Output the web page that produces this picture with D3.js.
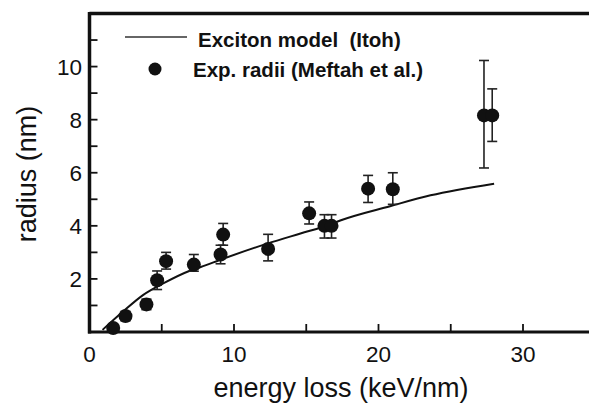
<!DOCTYPE html>
<html>
<head>
<meta charset="utf-8">
<script src="https://cdn.jsdelivr.net/npm/d3@7"></script>
<style>
  html, body { margin: 0; padding: 0; background: #fff; }
  svg { display: block; }
  text { font-family: "Liberation Sans", Arial, Helvetica, sans-serif; fill: #111; }
</style>
</head>
<body>
<svg id="chart" width="589" height="403"></svg>
<script>
// Experimental radii (Meftah et al.)
const energy = [1.64, 2.49, 3.94, 4.68, 5.3, 7.22, 9.07, 9.25, 12.36, 15.2, 16.26, 16.75, 19.28, 20.99, 27.3, 27.87];
const radius = [0.15, 0.6, 1.04, 1.95, 2.67, 2.54, 2.92, 3.67, 3.13, 4.47, 4.0, 4.0, 5.4, 5.38, 8.16, 8.16];
const errLow  = [0.12, 0.18, 0.2, 0.35, 0.3, 0.25, 0.35, 0.4, 0.45, 0.4, 0.46, 0.46, 0.52, 0.57, 1.98, 0.98];
const errHigh = [0.12, 0.18, 0.2, 0.35, 0.33, 0.38, 0.35, 0.42, 0.55, 0.43, 0.42, 0.42, 0.5, 0.62, 2.07, 1.0];

// Exciton model (Itoh) curve
const modelEnergy = [0.9, 2.3, 3.7, 5.1, 6.9, 7.7, 9.3, 12.3, 14.6, 16.5, 17.4, 20.8, 23.6, 28.0];
const modelRadius = [0.08, 0.76, 1.39, 1.83, 2.3, 2.45, 2.77, 3.33, 3.71, 4.02, 4.21, 4.74, 5.15, 5.59];

// Axis ticks
const xMajorTicks = [0, 10, 20, 30];
const xMinorTicks = [5, 15, 25];
const yMajorTicks = [2, 4, 6, 8, 10];
const yMinorTicks = [1, 3, 5, 7, 9, 11];

const legendLabels = ["Exciton model  (Itoh)", "Exp. radii (Meftah et al.)"];
const xTitle = "energy loss (keV/nm)";
const yTitle = "radius (nm)";

const svg = d3.select("#chart");
const ink = "#111";

const x = d3.scaleLinear().domain([0, 35]).range([89.5, 89.5 + 35 * 14.45]);
const y = d3.scaleLinear().domain([0, 12]).range([332, 13.5]);

const plot = svg.append("g");

// Frame: top, left, bottom lines
plot.append("line").attr("x1", x(0)).attr("x2", 600).attr("y1", y(12)).attr("y2", y(12))
  .attr("stroke", ink).attr("stroke-width", 3.5);
plot.append("line").attr("x1", x(0)).attr("x2", x(0)).attr("y1", y(12) - 1.5).attr("y2", y(0) + 1.5)
  .attr("stroke", ink).attr("stroke-width", 3.5);
plot.append("line").attr("x1", x(0) - 1.5).attr("x2", 600).attr("y1", y(0)).attr("y2", y(0))
  .attr("stroke", ink).attr("stroke-width", 3);

// Ticks (inward)
const tickLen = 8;
plot.selectAll(".xt").data(xMajorTicks.concat(xMinorTicks).filter(d => d > 0)).enter().append("line")
  .attr("x1", d => x(d)).attr("x2", d => x(d)).attr("y1", y(0)).attr("y2", y(0) - tickLen)
  .attr("stroke", ink).attr("stroke-width", 1.8);
plot.selectAll(".yt").data(yMajorTicks.concat(yMinorTicks)).enter().append("line")
  .attr("x1", x(0)).attr("x2", x(0) + tickLen).attr("y1", d => y(d)).attr("y2", d => y(d))
  .attr("stroke", ink).attr("stroke-width", 1.8);

// Tick labels
plot.selectAll(".xl").data(xMajorTicks).enter().append("text")
  .attr("x", d => x(d)).attr("y", 361.5).attr("text-anchor", "middle")
  .attr("font-size", 22.5).text(d => d);
plot.selectAll(".yl").data(yMajorTicks).enter().append("text")
  .attr("x", 82).attr("y", d => y(d) + 8).attr("text-anchor", "end")
  .attr("font-size", 22.5).text(d => d);

// Axis titles
svg.append("text").attr("x", 341).attr("y", 397).attr("text-anchor", "middle")
  .attr("font-size", 27).text(xTitle);
svg.append("text").attr("transform", "translate(36,174) rotate(-90)").attr("text-anchor", "middle")
  .attr("font-size", 27).text(yTitle);

// Model curve
const line = d3.line().x(d => x(d[0])).y(d => y(d[1])).curve(d3.curveMonotoneX);
plot.append("path").datum(modelEnergy.map((e, i) => [e, modelRadius[i]]))
  .attr("d", line).attr("fill", "none").attr("stroke", ink).attr("stroke-width", 2);

// Error bars
const pts = energy.map((e, i) => ({ e, r: radius[i], lo: errLow[i], hi: errHigh[i] }));
const eb = plot.selectAll(".eb").data(pts).enter().append("g").attr("stroke", "#222").attr("stroke-width", 1.6);
eb.append("line").attr("x1", d => x(d.e)).attr("x2", d => x(d.e))
  .attr("y1", d => y(d.r - d.lo)).attr("y2", d => y(d.r + d.hi));
eb.append("line").attr("x1", d => x(d.e) - 5).attr("x2", d => x(d.e) + 5)
  .attr("y1", d => y(d.r + d.hi)).attr("y2", d => y(d.r + d.hi));
eb.append("line").attr("x1", d => x(d.e) - 5).attr("x2", d => x(d.e) + 5)
  .attr("y1", d => y(d.r - d.lo)).attr("y2", d => y(d.r - d.lo));

// Points
plot.selectAll(".pt").data(pts).enter().append("circle")
  .attr("cx", d => x(d.e)).attr("cy", d => y(d.r)).attr("r", 7).attr("fill", ink);

// Legend
svg.append("line").attr("x1", 125).attr("x2", 187).attr("y1", 37).attr("y2", 37)
  .attr("stroke", "#333").attr("stroke-width", 1.6);
svg.append("text").attr("x", 198).attr("y", 46.5).attr("font-size", 20.5).attr("font-weight", "bold")
  .style("white-space", "pre").attr("xml:space", "preserve").text(legendLabels[0]);
svg.append("circle").attr("cx", 155).attr("cy", 69).attr("r", 6.5).attr("fill", ink);
svg.append("text").attr("x", 193).attr("y", 76.5).attr("font-size", 20.5).attr("font-weight", "bold")
  .text(legendLabels[1]);
</script>
</body>
</html>
